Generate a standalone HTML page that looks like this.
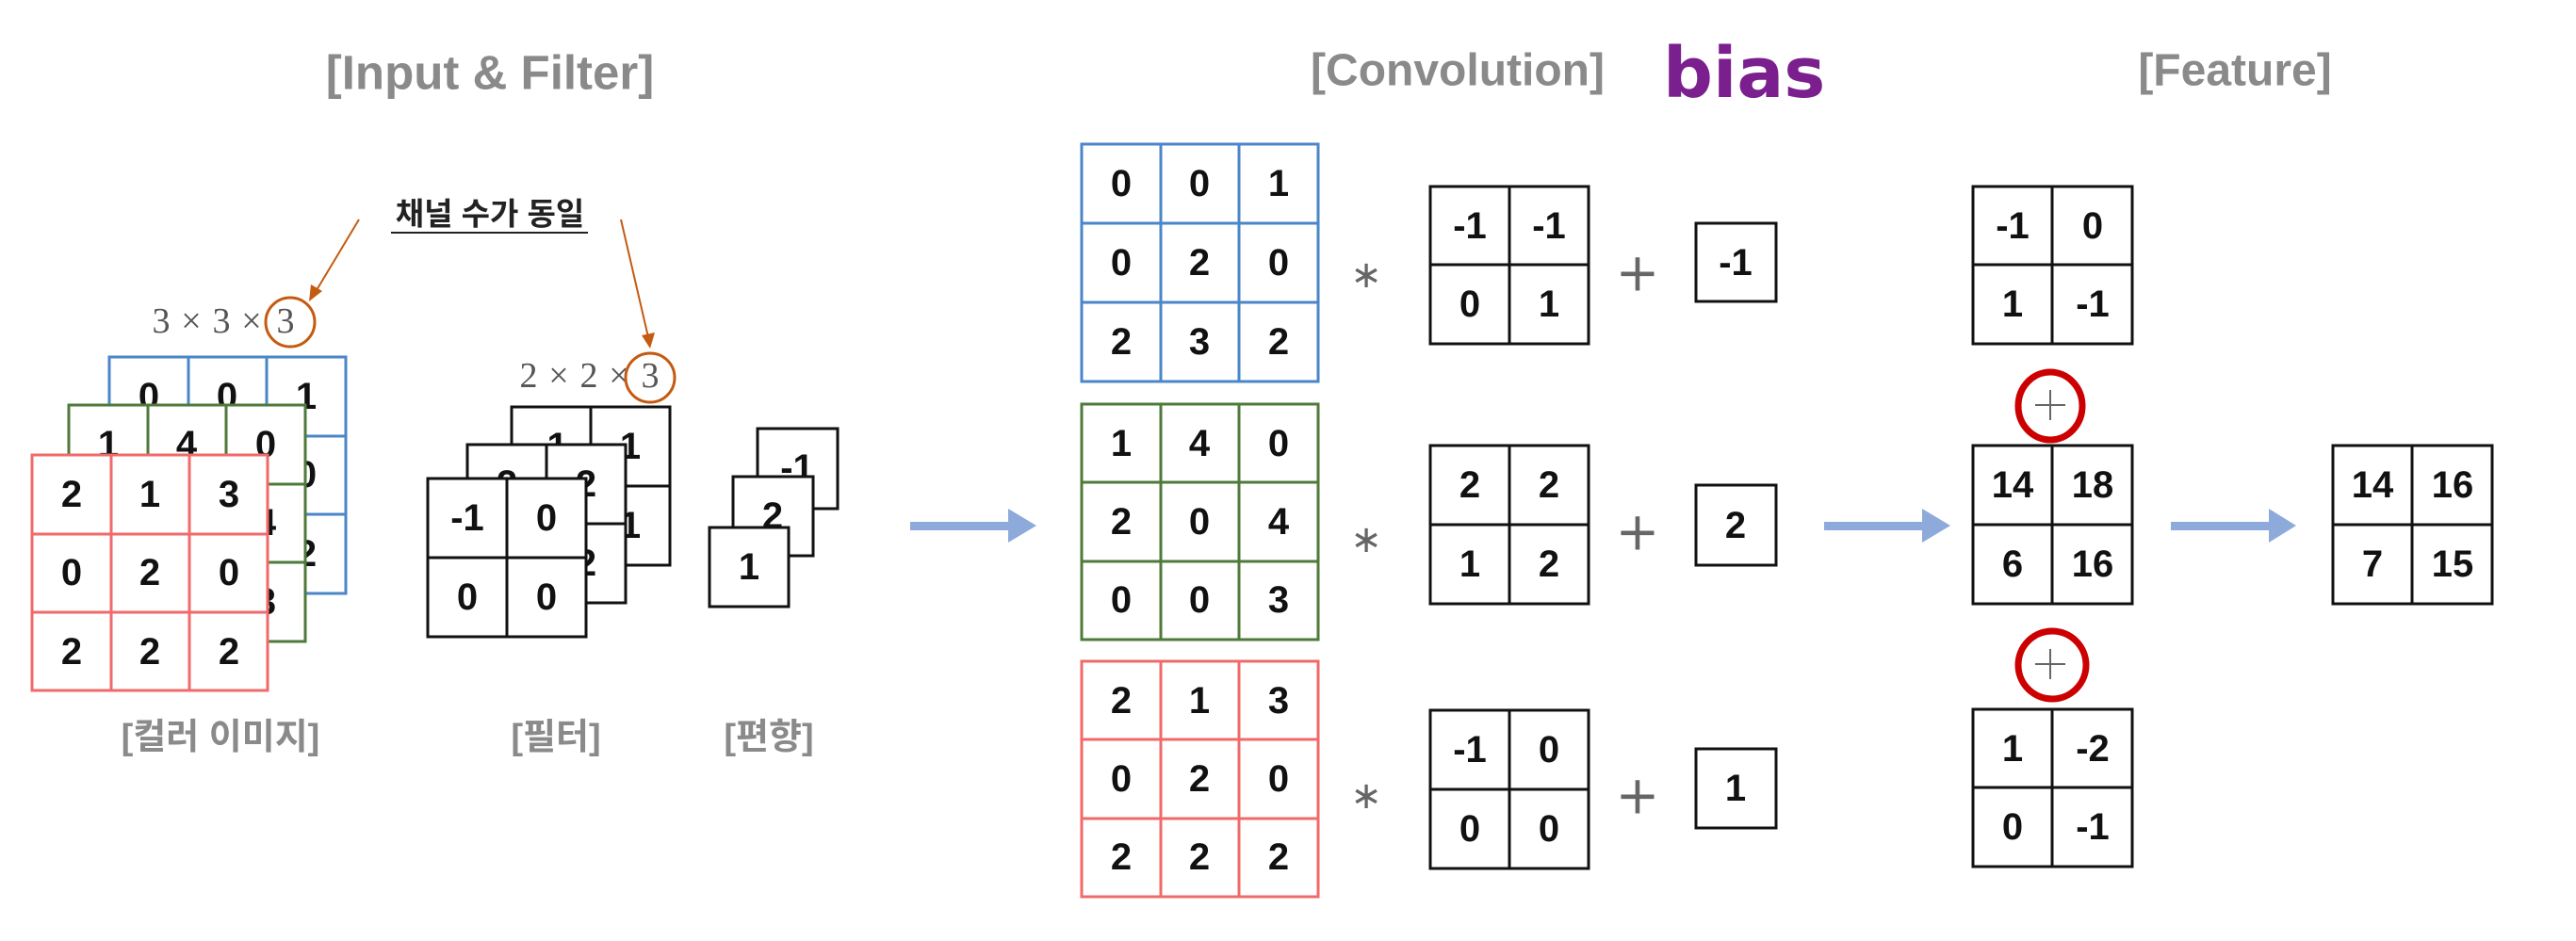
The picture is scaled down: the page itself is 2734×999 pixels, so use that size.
<!DOCTYPE html>
<html><head><meta charset="utf-8"><style>
html,body{margin:0;padding:0;background:#fff;}
svg{display:block;}
.t{font-family:"Liberation Sans","Noto Sans CJK KR",sans-serif;font-weight:bold;}
.n{font-family:"Liberation Sans",sans-serif;font-weight:bold;font-size:40px;fill:#111;text-anchor:middle;dominant-baseline:central;}
.h{font-family:"Liberation Sans","Noto Sans CJK KR",sans-serif;font-weight:bold;fill:#8a8a8a;text-anchor:middle;dominant-baseline:central;}
.s{font-family:"Liberation Serif",serif;font-size:38px;fill:#555;text-anchor:middle;dominant-baseline:central;}
</style></head><body>
<svg width="2734" height="999" viewBox="0 0 2734 999" xmlns="http://www.w3.org/2000/svg">

<!-- titles -->
<text class="h" x="520" y="77" font-size="51">[Input &amp; Filter]</text>
<text class="h" x="1547" y="75" font-size="48">[Convolution]</text>
<text class="h" x="2372" y="75" font-size="48">[Feature]</text>
<text x="1765" y="103" font-family="'Comic Sans MS','DejaVu Sans',sans-serif" font-weight="bold" font-size="74" fill="#7b1f8e">bias</text>

<!-- Korean note -->
<text class="t" x="520" y="227" font-size="33" fill="#222" text-anchor="middle" dominant-baseline="central">채널 수가 동일</text>
<line x1="415" y1="247" x2="624" y2="247" stroke="#222" stroke-width="2"/>
<line x1="381" y1="233" x2="336" y2="308" stroke="#c55a11" stroke-width="2"/>
<polygon points="328,320 330,302 342,309" fill="#c55a11"/>
<line x1="659" y1="233" x2="688" y2="358" stroke="#c55a11" stroke-width="2"/>
<polygon points="690,370 681,356 695,353" fill="#c55a11"/>

<text class="s" x="171" y="341">3</text><text class="s" x="203" y="341">×</text><text class="s" x="235" y="341">3</text><text class="s" x="267" y="341">×</text><text class="s" x="303" y="341">3</text>
<circle cx="308" cy="342" r="26" fill="none" stroke="#c55a11" stroke-width="3"/>
<text class="s" x="561" y="399">2</text><text class="s" x="593" y="399">×</text><text class="s" x="625" y="399">2</text><text class="s" x="657" y="399">×</text><text class="s" x="690" y="399">3</text>
<circle cx="690" cy="401" r="26" fill="none" stroke="#c55a11" stroke-width="3"/>

<!-- input stack -->
<g transform="translate(116,379)">
<rect x="0" y="0" width="251" height="251" fill="#fff" stroke="#4a86c8" stroke-width="3"/>
<path d="M84,0V251M167,0V251M0,84H251M0,167H251" stroke="#4a86c8" stroke-width="3"/>
<text class="n" x="42" y="42">0</text><text class="n" x="125" y="42">0</text><text class="n" x="209" y="42">1</text>
<text class="n" x="42" y="125">0</text><text class="n" x="125" y="125">2</text><text class="n" x="209" y="125">0</text>
<text class="n" x="42" y="209">2</text><text class="n" x="125" y="209">3</text><text class="n" x="209" y="209">2</text>
</g>
<g transform="translate(73,430)">
<rect x="0" y="0" width="251" height="251" fill="#fff" stroke="#4e7a3a" stroke-width="3"/>
<path d="M84,0V251M167,0V251M0,84H251M0,167H251" stroke="#4e7a3a" stroke-width="3"/>
<text class="n" x="42" y="42">1</text><text class="n" x="125" y="42">4</text><text class="n" x="209" y="42">0</text>
<text class="n" x="42" y="125">2</text><text class="n" x="125" y="125">0</text><text class="n" x="209" y="125">4</text>
<text class="n" x="42" y="209">0</text><text class="n" x="125" y="209">0</text><text class="n" x="209" y="209">3</text>
</g>
<g transform="translate(34,483)">
<rect x="0" y="0" width="250" height="250" fill="#fff" stroke="#f06a6a" stroke-width="3"/>
<path d="M84,0V250M167,0V250M0,84H250M0,167H250" stroke="#f06a6a" stroke-width="3"/>
<text class="n" x="42" y="42">2</text><text class="n" x="125" y="42">1</text><text class="n" x="209" y="42">3</text>
<text class="n" x="42" y="125">0</text><text class="n" x="125" y="125">2</text><text class="n" x="209" y="125">0</text>
<text class="n" x="42" y="209">2</text><text class="n" x="125" y="209">2</text><text class="n" x="209" y="209">2</text>
</g>

<!-- filter stack -->
<g transform="translate(543,432)">
<rect width="168" height="168" fill="#fff" stroke="#111" stroke-width="3"/><path d="M84,0V168M0,84H168" stroke="#111" stroke-width="3"/>
<text class="n" x="42" y="42">-1</text><text class="n" x="126" y="42">1</text><text class="n" x="42" y="126">0</text><text class="n" x="126" y="126">1</text>
</g>
<g transform="translate(496,472)">
<rect width="168" height="168" fill="#fff" stroke="#111" stroke-width="3"/><path d="M84,0V168M0,84H168" stroke="#111" stroke-width="3"/>
<text class="n" x="42" y="42">2</text><text class="n" x="126" y="42">2</text><text class="n" x="42" y="126">1</text><text class="n" x="126" y="126">2</text>
</g>
<g transform="translate(454,508)">
<rect width="168" height="168" fill="#fff" stroke="#111" stroke-width="3"/><path d="M84,0V168M0,84H168" stroke="#111" stroke-width="3"/>
<text class="n" x="42" y="42">-1</text><text class="n" x="126" y="42">0</text><text class="n" x="42" y="126">0</text><text class="n" x="126" y="126">0</text>
</g>
<!-- bias stack -->
<rect x="804" y="455" width="85" height="85" fill="#fff" stroke="#111" stroke-width="3"/><text class="n" x="846" y="497">-1</text>
<rect x="778" y="506" width="85" height="84" fill="#fff" stroke="#111" stroke-width="3"/><text class="n" x="820" y="548">2</text>
<rect x="753" y="560" width="84" height="84" fill="#fff" stroke="#111" stroke-width="3"/><text class="n" x="795" y="602">1</text>

<text class="h" x="234" y="783" font-size="38">[컬러 이미지]</text>
<text class="h" x="590" y="783" font-size="38">[필터]</text>
<text class="h" x="816" y="783" font-size="38">[편향]</text>

<!-- arrows -->
<g fill="#8eaadb">
<rect x="966" y="554" width="110" height="9"/><polygon points="1070,540 1100,558 1070,576"/>
<rect x="1936" y="554" width="110" height="9"/><polygon points="2040,540 2070,558 2040,576"/>
<rect x="2304" y="554" width="110" height="9"/><polygon points="2408,540 2437,558 2408,576"/>
</g>

<!-- conv grids -->
<g transform="translate(1148,153)">
<rect width="251" height="252" fill="#fff" stroke="#4a86c8" stroke-width="3"/>
<path d="M84,0V252M167,0V252M0,84H251M0,168H251" stroke="#4a86c8" stroke-width="3"/>
<text class="n" x="42" y="42">0</text><text class="n" x="125" y="42">0</text><text class="n" x="209" y="42">1</text>
<text class="n" x="42" y="126">0</text><text class="n" x="125" y="126">2</text><text class="n" x="209" y="126">0</text>
<text class="n" x="42" y="210">2</text><text class="n" x="125" y="210">3</text><text class="n" x="209" y="210">2</text>
</g>
<g transform="translate(1148,429)">
<rect width="251" height="250" fill="#fff" stroke="#4e7a3a" stroke-width="3"/>
<path d="M84,0V250M167,0V250M0,83H251M0,167H251" stroke="#4e7a3a" stroke-width="3"/>
<text class="n" x="42" y="42">1</text><text class="n" x="125" y="42">4</text><text class="n" x="209" y="42">0</text>
<text class="n" x="42" y="125">2</text><text class="n" x="125" y="125">0</text><text class="n" x="209" y="125">4</text>
<text class="n" x="42" y="208">0</text><text class="n" x="125" y="208">0</text><text class="n" x="209" y="208">3</text>
</g>
<g transform="translate(1148,702)">
<rect width="251" height="250" fill="#fff" stroke="#f06a6a" stroke-width="3"/>
<path d="M84,0V250M167,0V250M0,83H251M0,167H251" stroke="#f06a6a" stroke-width="3"/>
<text class="n" x="42" y="42">2</text><text class="n" x="125" y="42">1</text><text class="n" x="209" y="42">3</text>
<text class="n" x="42" y="125">0</text><text class="n" x="125" y="125">2</text><text class="n" x="209" y="125">0</text>
<text class="n" x="42" y="208">2</text><text class="n" x="125" y="208">2</text><text class="n" x="209" y="208">2</text>
</g>

<g font-family="'DejaVu Sans',sans-serif" fill="#666" text-anchor="middle" dominant-baseline="central">
<text x="1450" y="292" font-size="40">∗</text>
<text x="1450" y="573" font-size="40">∗</text>
<text x="1450" y="845" font-size="40">∗</text>
<text x="1738" y="290" font-size="56">+</text>
<text x="1738" y="565" font-size="56">+</text>
<text x="1738" y="845" font-size="56">+</text>
</g>

<g transform="translate(1518,198)">
<rect width="168" height="167" fill="#fff" stroke="#111" stroke-width="3"/><path d="M84,0V167M0,83H168" stroke="#111" stroke-width="3"/>
<text class="n" x="42" y="42">-1</text><text class="n" x="126" y="42">-1</text><text class="n" x="42" y="125">0</text><text class="n" x="126" y="125">1</text>
</g>
<g transform="translate(1518,473)">
<rect width="168" height="168" fill="#fff" stroke="#111" stroke-width="3"/><path d="M84,0V168M0,84H168" stroke="#111" stroke-width="3"/>
<text class="n" x="42" y="42">2</text><text class="n" x="126" y="42">2</text><text class="n" x="42" y="126">1</text><text class="n" x="126" y="126">2</text>
</g>
<g transform="translate(1518,754)">
<rect width="168" height="168" fill="#fff" stroke="#111" stroke-width="3"/><path d="M84,0V168M0,84H168" stroke="#111" stroke-width="3"/>
<text class="n" x="42" y="42">-1</text><text class="n" x="126" y="42">0</text><text class="n" x="42" y="126">0</text><text class="n" x="126" y="126">0</text>
</g>
<rect x="1800" y="237" width="85" height="83" fill="#fff" stroke="#111" stroke-width="3"/><text class="n" x="1842" y="279">-1</text>
<rect x="1800" y="515" width="85" height="85" fill="#fff" stroke="#111" stroke-width="3"/><text class="n" x="1842" y="558">2</text>
<rect x="1800" y="795" width="85" height="84" fill="#fff" stroke="#111" stroke-width="3"/><text class="n" x="1842" y="837">1</text>

<!-- feature -->
<g transform="translate(2094,198)">
<rect width="169" height="167" fill="#fff" stroke="#111" stroke-width="3"/><path d="M84,0V167M0,83H169" stroke="#111" stroke-width="3"/>
<text class="n" x="42" y="42">-1</text><text class="n" x="127" y="42">0</text><text class="n" x="42" y="125">1</text><text class="n" x="127" y="125">-1</text>
</g>
<g transform="translate(2094,473)">
<rect width="169" height="168" fill="#fff" stroke="#111" stroke-width="3"/><path d="M84,0V168M0,84H169" stroke="#111" stroke-width="3"/>
<text class="n" x="42" y="42">14</text><text class="n" x="127" y="42">18</text><text class="n" x="42" y="126">6</text><text class="n" x="127" y="126">16</text>
</g>
<g transform="translate(2094,753)">
<rect width="169" height="167" fill="#fff" stroke="#111" stroke-width="3"/><path d="M84,0V167M0,83H169" stroke="#111" stroke-width="3"/>
<text class="n" x="42" y="42">1</text><text class="n" x="127" y="42">-2</text><text class="n" x="42" y="125">0</text><text class="n" x="127" y="125">-1</text>
</g>
<g transform="translate(2476,473)">
<rect width="169" height="168" fill="#fff" stroke="#111" stroke-width="3"/><path d="M84,0V168M0,84H169" stroke="#111" stroke-width="3"/>
<text class="n" x="42" y="42">14</text><text class="n" x="127" y="42">16</text><text class="n" x="42" y="126">7</text><text class="n" x="127" y="126">15</text>
</g>

<!-- plus with red circles -->
<g stroke="#666" stroke-width="2">
<path d="M2176,414V446M2160,430H2192"/>
<path d="M2176,689V721M2160,705H2192"/>
</g>
<g fill="none" stroke="#cc0000" stroke-width="7">
<ellipse cx="2176" cy="431" rx="34" ry="36"/>
<ellipse cx="2178" cy="706" rx="36" ry="36"/>
</g>
</svg>
</body></html>
